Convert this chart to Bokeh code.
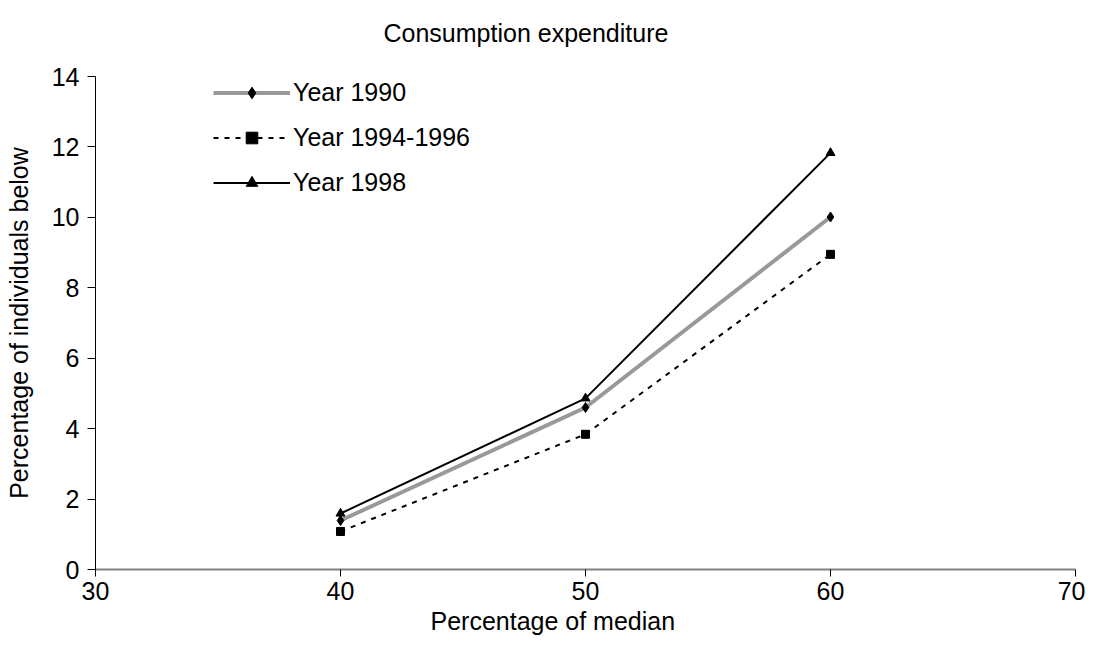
from bokeh.plotting import figure
from bokeh.models import Range1d, Legend, LegendItem, FixedTicker, Title
from bokeh.embed import file_html
from bokeh.resources import INLINE

x_vals = [40, 50, 60]
y_1990 = [1.39, 4.60, 10.01]
y_1994_1996 = [1.08, 3.84, 8.95]
y_1998 = [1.59, 4.86, 11.83]
x_ticks = [30, 40, 50, 60, 70]
y_ticks = [0, 2, 4, 6, 8, 10, 12, 14]

FONT = "Liberation Sans"
FS = "25px"

p = figure(width=1085, height=657, output_backend="svg", toolbar_location=None,
           x_range=Range1d(30, 70), y_range=Range1d(0, 14),
           min_border_left=95, min_border_right=10, min_border_top=76, min_border_bottom=88,
           title=None)
p.outline_line_color = None
p.xgrid.visible = False
p.ygrid.visible = False
p.background_fill_color = "white"
p.border_fill_color = "white"

# axes
p.xaxis.ticker = FixedTicker(ticks=x_ticks)
p.yaxis.ticker = FixedTicker(ticks=y_ticks)
for ax in (p.xaxis, p.yaxis):
    ax.minor_tick_line_color = None
    ax.major_tick_in = 0
    ax.major_label_text_font = FONT
    ax.major_label_text_font_size = FS
    ax.major_label_text_color = "black"
    ax.major_tick_line_color = "black"
p.xaxis.axis_line_color = "#808080"
p.xaxis.axis_line_width = 2
p.xaxis.major_tick_out = 7
p.xaxis.major_label_standoff = 5
p.yaxis.axis_line_color = "black"
p.yaxis.major_tick_out = 8
p.yaxis.major_label_standoff = 8

p.yaxis.axis_label = "Percentage of individuals below"
p.yaxis.axis_label_text_font = FONT
p.yaxis.axis_label_text_font_size = FS
p.yaxis.axis_label_text_font_style = "normal"
p.yaxis.axis_label_text_color = "black"
p.yaxis.axis_label_standoff = 16

# series
r1l = p.line(x_vals, y_1990, line_color="#999999", line_width=4)
r1m = p.scatter(x_vals, y_1990, marker="diamond", size=10, color="black")
r2l = p.line(x_vals, y_1994_1996, line_color="black", line_width=2, line_dash="5 6")
r2m = p.scatter(x_vals, y_1994_1996, marker="square", size=8, color="black")
r3l = p.line(x_vals, y_1998, line_color="black", line_width=2)
r3m = p.scatter(x_vals, y_1998, marker="triangle", size=9, color="black")

legend = Legend(items=[
    LegendItem(label="Year 1990", renderers=[r1l, r1m]),
    LegendItem(label="Year 1994-1996", renderers=[r2l, r2m]),
    LegendItem(label="Year 1998", renderers=[r3l, r3m]),
], location=(118, 372))
legend.glyph_width = 77
legend.glyph_height = 29
legend.label_height = 29
legend.spacing = 16
legend.padding = 0
legend.margin = 0
legend.label_standoff = 3
legend.border_line_color = None
legend.background_fill_alpha = 0
legend.label_text_font = FONT
legend.label_text_font_size = FS
legend.label_text_color = "black"
p.add_layout(legend, "center")

# spacer panel between frame and title
spacer = Title(text=" ", text_font=FONT, text_font_size=FS, standoff=0)
p.add_layout(spacer, "above")
title = Title(text="Consumption expenditure", align="left", offset=288,
              text_font=FONT, text_font_size=FS, text_font_style="normal",
              text_color="black", standoff=0)
p.add_layout(title, "above")
xlab = Title(text="Percentage of median", align="left", offset=335,
             text_font=FONT, text_font_size=FS, text_font_style="normal",
             text_color="black", standoff=4)
p.add_layout(xlab, "below")

open("out.html", "w").write(file_html(p, INLINE))
